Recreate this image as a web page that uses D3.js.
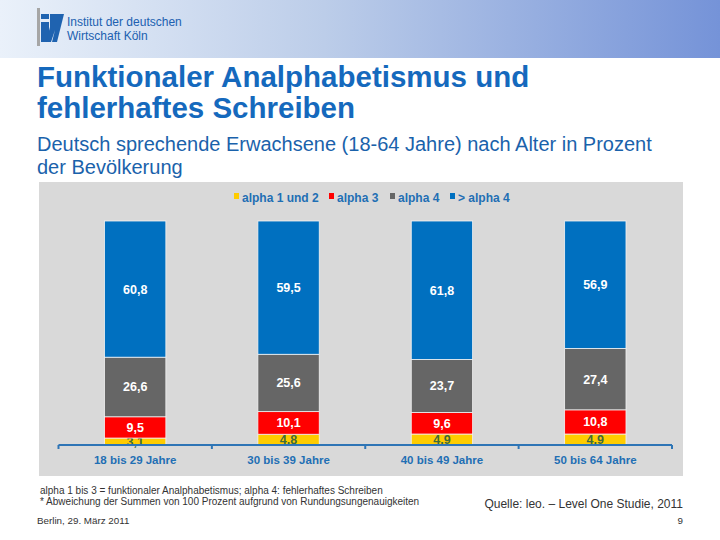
<!DOCTYPE html>
<html>
<head>
<meta charset="utf-8">
<script src="https://cdn.jsdelivr.net/npm/d3@7"></script>
<style>
  body { margin: 0; background: #fff; }
  svg { display: block; font-family: Arial, "Liberation Sans", sans-serif; }
</style>
</head>
<body>
<svg id="chart" width="720" height="540"></svg>
<script>
// data
const categories = ["18 bis 29 Jahre", "30 bis 39 Jahre", "40 bis 49 Jahre", "50 bis 64 Jahre"];
const seriesNames = ["alpha 1 und 2", "alpha 3", "alpha 4", "> alpha 4"];
const alpha12 = [3.1, 4.8, 4.9, 4.9];
const alpha3 = [9.5, 10.1, 9.6, 10.8];
const alpha4 = [26.6, 25.6, 23.7, 27.4];
const aboveAlpha4 = [60.8, 59.5, 61.8, 56.9];
const colors = ["#ffcc00", "#ff0000", "#666666", "#0070c0"];
const labelColors = ["#3f6b3a", "#ffffff", "#ffffff", "#ffffff"];

const svg = d3.select("#chart");

// header band
const defs = svg.append("defs");
const grad = defs.append("linearGradient").attr("id", "hdr");
grad.append("stop").attr("offset", "0%").attr("stop-color", "#eaf1fa");
grad.append("stop").attr("offset", "45%").attr("stop-color", "#bccde9");
grad.append("stop").attr("offset", "100%").attr("stop-color", "#7593d8");
svg.append("rect").attr("x", 0).attr("y", 0).attr("width", 720).attr("height", 58).attr("fill", "url(#hdr)");

// logo
svg.append("rect").attr("x", 37).attr("y", 8).attr("width", 3).attr("height", 38).attr("fill", "#a6a6a6");
svg.append("path").attr("d", "M41,14 L49,14 L49,19 L41,19 Z M41,22 L49,22 L49,42 L41,42 Z").attr("fill", "#1f63b0");
svg.append("path").attr("d", "M50,14 L64,14 L57,42 L52,42 L55,30 L51,42 L46,42 L50,27 Z").attr("fill", "#1f63b0");
svg.append("text").attr("x", 67).attr("y", 26).attr("font-size", 12).attr("fill", "#2060b0").text("Institut der deutschen");
svg.append("text").attr("x", 67).attr("y", 40).attr("font-size", 12).attr("fill", "#2060b0").text("Wirtschaft Köln");

// titles
svg.append("text").attr("x", 37).attr("y", 87).attr("font-size", 29.5).attr("font-weight", "bold")
  .attr("fill", "#1569bd").text("Funktionaler Analphabetismus und");
svg.append("text").attr("x", 37).attr("y", 118).attr("font-size", 29.5).attr("font-weight", "bold")
  .attr("fill", "#1569bd").text("fehlerhaftes Schreiben");
svg.append("text").attr("x", 37).attr("y", 151).attr("font-size", 20)
  .attr("fill", "#1a62ab").text("Deutsch sprechende Erwachsene (18-64 Jahre) nach Alter in Prozent");
svg.append("text").attr("x", 37).attr("y", 174).attr("font-size", 20)
  .attr("fill", "#1a62ab").text("der Bevölkerung");

// chart panel
svg.append("rect").attr("x", 39).attr("y", 182).attr("width", 644).attr("height", 294).attr("fill", "#d9d9d9");

const rows = categories.map((c, i) => ({
  cat: c,
  "alpha 1 und 2": alpha12[i],
  "alpha 3": alpha3[i],
  "alpha 4": alpha4[i],
  "> alpha 4": aboveAlpha4[i]
}));

const x = d3.scaleBand().domain(categories).range([58.5, 672]).paddingInner(0.6).paddingOuter(0.3);
const y = d3.scaleLinear().domain([0, 100]).range([445, 221]);
const stack = d3.stack().keys(seriesNames)(rows);

const layers = svg.append("g").selectAll("g").data(stack).enter().append("g")
  .attr("fill", (d, i) => colors[i]);

layers.selectAll("rect").data(d => d).enter().append("rect")
  .attr("x", d => x(d.data.cat))
  .attr("y", d => y(d[1]))
  .attr("width", x.bandwidth())
  .attr("height", d => y(d[0]) - y(d[1]))
  .attr("stroke", "#f2f2f2")
  .attr("stroke-width", 0.8);

layers.each(function (layer, li) {
  d3.select(this).selectAll("text").data(layer).enter().append("text")
    .attr("x", d => x(d.data.cat) + x.bandwidth() / 2)
    .attr("y", d => (y(d[0]) + y(d[1])) / 2 + 4.5)
    .attr("text-anchor", "middle")
    .attr("font-size", 12.5)
    .attr("font-weight", "bold")
    .attr("fill", labelColors[li])
    .text(d => (+(d[1] - d[0]).toFixed(1)).toString().replace(".", ","));
});

// x axis
const axisG = svg.append("g").attr("transform", "translate(0,445)");
axisG.append("line").attr("x1", 58.5).attr("x2", 672).attr("stroke", "#2e75b6").attr("stroke-width", 2);
const bounds = [58.5].concat(categories.map(c => x(c) + x.step() * 0.7));
axisG.selectAll("line.tick").data(bounds).enter().append("line").attr("class", "tick")
  .attr("x1", d => d).attr("x2", d => d).attr("y1", 0).attr("y2", 4)
  .attr("stroke", "#2e75b6").attr("stroke-width", 2);
axisG.selectAll("text").data(categories).enter().append("text")
  .attr("x", d => x(d) + x.bandwidth() / 2)
  .attr("y", 19)
  .attr("text-anchor", "middle")
  .attr("font-size", 11.5)
  .attr("font-weight", "bold")
  .attr("fill", "#1f6fb4")
  .text(d => d);

// legend
const legendX = [234, 329, 390, 450];
const legend = svg.append("g").selectAll("g").data(seriesNames).enter().append("g")
  .attr("transform", (d, i) => `translate(${legendX[i]},198)`);
legend.append("rect").attr("x", 0).attr("y", -5).attr("width", 5).attr("height", 6)
  .attr("fill", (d, i) => colors[i]);
legend.append("text").attr("x", 8).attr("y", 4).attr("font-size", 12).attr("font-weight", "bold")
  .attr("fill", "#1f6fb4").text(d => d);

// footnotes
svg.append("text").attr("x", 40).attr("y", 494).attr("font-size", 10).attr("fill", "#333")
  .text("alpha 1 bis 3 = funktionaler Analphabetismus; alpha 4: fehlerhaftes Schreiben");
svg.append("text").attr("x", 40).attr("y", 505).attr("font-size", 10).attr("fill", "#333")
  .text("* Abweichung der Summen von 100 Prozent aufgrund von Rundungsungenauigkeiten");
svg.append("text").attr("x", 683).attr("y", 508).attr("text-anchor", "end").attr("font-size", 12).attr("fill", "#333")
  .text("Quelle: leo. – Level One Studie, 2011");
svg.append("text").attr("x", 37).attr("y", 524).attr("font-size", 9.8).attr("fill", "#333")
  .text("Berlin, 29. März 2011");
svg.append("text").attr("x", 683).attr("y", 524).attr("text-anchor", "end").attr("font-size", 9.8).attr("fill", "#333")
  .text("9");
</script>
</body>
</html>
